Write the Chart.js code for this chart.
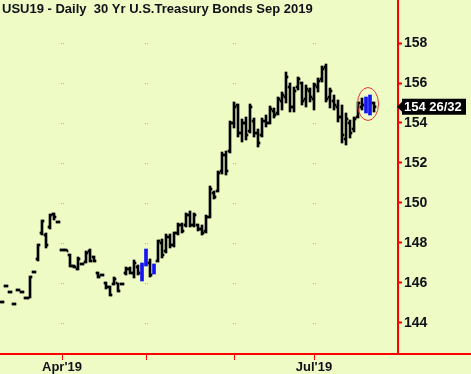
<!DOCTYPE html>
<html>
<head>
<meta charset="utf-8">
<script src="https://cdn.jsdelivr.net/npm/chart.js@4.4.1/dist/chart.umd.min.js"></script>
<style>
  html, body { margin: 0; padding: 0; background: #eefbc5; }
  canvas { display: block; }
</style>
</head>
<body>
<canvas id="chartUsu" width="471" height="374"></canvas>
<script>
// Dzienne słupki OHLC, indeks = kolejna sesja (od ok. 11 marca 2019)
const opens = [
  145.05, 145.85, 145.55, 144.95, 145.65, 145.55, 145.25, 145.25, 146.55, 147.2,
  148.5, 148.4, 148.8, 149.45, 149.05, 147.65, 147.65, 147.4, 146.85, 146.7,
  146.95, 147.05, 147.6, 147.3, 146.5, 146.4, 146.0, 145.8, 145.95, 146.0,
  145.95, 146.5, 146.7, 146.5, 146.8, 146.2, 146.9, 147.0, 146.5, 147.1,
  148.0, 147.6, 148.3, 147.9, 148.5, 148.9, 148.9, 149.4, 148.9, 148.9,
  148.7, 148.6, 149.3, 150.5, 150.6, 151.6, 152.4, 152.6, 154.0, 154.9,
  153.5, 154.0, 153.6, 154.1, 153.5, 153.4, 154.1, 154.0, 154.6, 154.5,
  155.1, 155.3, 155.8, 154.8, 155.8, 156.0, 155.2, 155.6, 155.2, 155.8,
  156.2, 156.8, 155.3, 155.1, 154.8, 154.3, 153.2, 154.0, 153.7, 154.3,
  154.8, 154.6, 155.2, 155.0
];
const highs = [
  145.1, 145.9, 145.6, 145.0, 145.7, 145.6, 145.3, 146.35, 146.6, 147.95,
  149.15, 148.5, 149.45, 149.5, 149.1, 147.7, 147.7, 147.45, 146.9, 147.3,
  147.0, 147.6, 147.7, 147.35, 146.55, 146.45, 146.05, 145.85, 146.3, 146.0,
  146.0, 146.8, 146.8, 147.15, 146.9, 147.0, 147.7, 147.2, 146.95, 148.15,
  148.2, 148.45, 148.45, 148.55, 149.0, 149.0, 149.5, 149.6, 149.5, 148.95,
  148.9, 149.4, 150.85, 150.6, 151.6, 152.55, 152.6, 154.1, 155.05, 154.95,
  154.2, 154.3, 154.95, 154.25, 153.7, 154.25, 154.4, 154.85, 154.75, 155.3,
  155.55, 156.55, 156.0, 155.8, 156.3, 156.05, 155.9, 155.75, 156.0, 156.25,
  156.85, 156.95, 155.75, 155.4, 155.15, 154.9, 154.5, 154.15, 154.3, 155.05,
  155.25, 155.3, 155.4, 155.05
];
const lows = [
  145.0, 145.8, 145.5, 144.9, 145.6, 145.5, 145.2, 145.25, 146.5, 147.1,
  148.4, 147.75, 148.7, 149.15, 149.0, 147.6, 147.6, 146.8, 146.75, 146.65,
  146.9, 147.0, 147.05, 147.05, 146.25, 146.35, 145.7, 145.35, 145.9, 145.55,
  145.9, 146.4, 146.45, 146.25, 146.4, 146.1, 146.85, 146.3, 146.45, 147.05,
  147.25, 147.5, 147.75, 147.8, 148.4, 148.5, 148.8, 148.8, 148.8, 148.6,
  148.4, 148.5, 149.25, 150.2, 150.55, 151.45, 151.4, 152.5, 153.75, 153.3,
  153.05, 153.15, 153.5, 153.3, 152.8, 153.3, 153.8, 153.95, 154.25, 154.4,
  154.65, 155.0, 154.55, 154.55, 155.65, 154.9, 154.8, 155.05, 154.65, 155.55,
  156.05, 155.05, 154.75, 154.65, 154.05, 153.0, 152.9, 153.25, 153.55, 154.25,
  154.65, 154.5, 154.4, 154.55
];
const closes = [
  145.05, 145.85, 145.55, 144.95, 145.65, 145.55, 145.25, 146.3, 146.55, 147.9,
  149.1, 147.9, 149.4, 149.3, 149.05, 147.65, 147.6, 146.85, 146.8, 147.2,
  146.95, 147.5, 147.1, 147.1, 146.3, 146.4, 145.8, 145.4, 146.2, 145.6,
  145.95, 146.7, 146.5, 147.0, 146.5, 146.9, 147.6, 146.4, 146.9, 148.1,
  147.4, 148.3, 147.9, 148.5, 148.9, 148.6, 149.4, 148.9, 149.4, 148.7,
  148.5, 149.3, 150.7, 150.3, 151.5, 152.4, 151.6, 154.0, 154.8, 153.5,
  154.0, 153.4, 154.8, 153.5, 153.0, 154.1, 154.0, 154.7, 154.4, 155.2,
  155.4, 156.3, 154.8, 155.6, 156.2, 155.1, 155.7, 155.3, 155.9, 156.1,
  156.7, 155.2, 155.6, 154.9, 154.3, 153.4, 154.2, 153.5, 154.2, 155.0,
  154.9, 155.2, 154.5, 154.8125
];

// Słupki wyróżnione na niebiesko
const blueIdx = [35, 36, 38, 91, 92];

// Oś X: pierwsza sesja miesiąca (kwiecień, maj, czerwiec, lipiec)
const monthTickIdx = [15, 36, 58, 78];
const monthTickLabels = ["Apr'19", '', '', "Jul'19"];

// Oś Y
const yTicks = [144, 146, 148, 150, 152, 154, 156, 158];

const chartTitle = 'USU19 - Daily  30 Yr U.S.Treasury Bonds Sep 2019';
const lastPrice = 154.8125;
const lastPriceLabel = '154 26/32';
const circleCenter = [91.5, 154.95];

const TLO = '#eefbc5';
const CZERWONY = '#ff0000';
const POL_KRESKI = 0.05; // połowa grubości kreski open/close (w jednostkach ceny)

Chart.defaults.font.family = "'Liberation Sans', Arial, sans-serif";

// Budowa danych dla zbiorów Chart.js
const czyNiebieski = i => blueIdx.includes(i);
const zakresCzarny = highs.map((h, i) => ({ x: i, y: czyNiebieski(i) ? null : [lows[i], h] }));
const zakresNiebieski = highs.map((h, i) => ({ x: i, y: czyNiebieski(i) ? [lows[i], h] : null }));
const kreskiOpen = opens.map((o, i) => ({ x: i - 0.375, y: czyNiebieski(i) ? null : [o - POL_KRESKI, o + POL_KRESKI] }));
const kreskiClose = closes.map((c, i) => ({ x: i + 0.375, y: czyNiebieski(i) ? null : [c - POL_KRESKI, c + POL_KRESKI] }));

/**
 * Dodatki rysowane na płótnie: tytuł, kropki siatki, elipsa, etykieta ceny
 */
const dodatki = {
  id: 'dodatki',
  beforeDraw(chart) {
    const { ctx, scales: { x, y } } = chart;
    ctx.save();
    ctx.fillStyle = TLO;
    ctx.fillRect(0, 0, chart.width, chart.height);
    // kropki siatki w miejscach przecięć
    ctx.fillStyle = '#b4bca8';
    monthTickIdx.forEach(m => {
      const px = Math.round(x.getPixelForValue(m));
      yTicks.forEach(t => {
        const py = Math.round(y.getPixelForValue(t));
        ctx.fillRect(px - 1, py, 1, 1);
        ctx.fillRect(px + 1, py, 1, 1);
      });
    });
    ctx.restore();
  },
  afterDraw(chart) {
    const { ctx, chartArea: a, scales: { x, y } } = chart;
    ctx.save();

    // dolna czerwona linia przez całą szerokość
    ctx.strokeStyle = CZERWONY;
    ctx.lineWidth = 2;
    ctx.beginPath();
    ctx.moveTo(0, a.bottom);
    ctx.lineTo(chart.width, a.bottom);
    ctx.stroke();

    // tytuł
    ctx.fillStyle = '#101018';
    ctx.font = "bold 13px 'Liberation Sans', Arial, sans-serif";
    ctx.textBaseline = 'top';
    ctx.textAlign = 'left';
    ctx.fillText(chartTitle, 2, 3);

    // elipsa wokół ostatnich słupków
    ctx.strokeStyle = '#e03838';
    ctx.lineWidth = 1;
    ctx.beginPath();
    ctx.ellipse(x.getPixelForValue(circleCenter[0]), y.getPixelForValue(circleCenter[1]), 10.5, 16.5, 0, 0, Math.PI * 2);
    ctx.stroke();

    // etykieta ostatniej ceny
    const py = y.getPixelForValue(lastPrice);
    const bx = a.right + 4;
    ctx.fillStyle = '#000';
    ctx.beginPath();
    ctx.moveTo(a.right - 1, py);
    ctx.lineTo(bx, py - 5);
    ctx.lineTo(bx, py - 8);
    ctx.lineTo(bx + 64, py - 8);
    ctx.lineTo(bx + 64, py + 8);
    ctx.lineTo(bx, py + 8);
    ctx.lineTo(bx, py + 5);
    ctx.closePath();
    ctx.fill();
    ctx.fillStyle = '#fff';
    ctx.font = "bold 13px 'Liberation Sans', Arial, sans-serif";
    ctx.textBaseline = 'middle';
    ctx.fillText(lastPriceLabel, bx + 2, py + 1);

    ctx.restore();
  }
};

const wspolneSlupki = { grouped: false, borderWidth: 0 };

const ctx = document.getElementById('chartUsu').getContext('2d');
const wykres = new Chart(ctx, {
  type: 'bar',
  data: {
    datasets: [
      { ...wspolneSlupki, label: 'zakres', data: zakresCzarny, backgroundColor: '#000', barThickness: 2 },
      { ...wspolneSlupki, label: 'wyróżnione', data: zakresNiebieski, backgroundColor: '#1414f5', barThickness: 3 },
      { ...wspolneSlupki, label: 'open', data: kreskiOpen, backgroundColor: '#000', barThickness: 1 },
      { ...wspolneSlupki, label: 'close', data: kreskiClose, backgroundColor: '#000', barThickness: 1 }
    ]
  },
  options: {
    responsive: false,
    animation: false,
    layout: { padding: 0 },
    plugins: {
      legend: { display: false },
      tooltip: { enabled: false },
      title: { display: false }
    },
    scales: {
      x: {
        type: 'linear',
        offset: false,
        min: -0.5,
        max: 99,
        afterBuildTicks: s => { s.ticks = monthTickIdx.map(v => ({ value: v })); },
        afterFit: s => { s.height = 20; s.paddingLeft = 0; s.paddingRight = 0; },
        border: { color: CZERWONY, width: 2 },
        grid: { offset: false, drawOnChartArea: false, tickColor: CZERWONY, tickLength: 6, tickWidth: 1 },
        ticks: {
          autoSkip: false,
          maxRotation: 0,
          padding: 0,
          color: '#101018',
          font: { size: 13, weight: 'bold' },
          callback: v => monthTickLabels[monthTickIdx.indexOf(v)] || ''
        }
      },
      y: {
        position: 'right',
        min: 142.45,
        max: 160.15,
        afterBuildTicks: s => { s.ticks = yTicks.map(v => ({ value: v })); },
        afterFit: s => { s.width = 73; s.paddingTop = 0; s.paddingBottom = 0; },
        border: { color: CZERWONY, width: 2 },
        grid: { drawOnChartArea: false, tickColor: CZERWONY, tickLength: 4, tickWidth: 2 },
        ticks: {
          padding: 2,
          color: '#101018',
          font: { size: 14, weight: 'bold' }
        }
      }
    }
  },
  plugins: [dodatki]
});
</script>
</body>
</html>
